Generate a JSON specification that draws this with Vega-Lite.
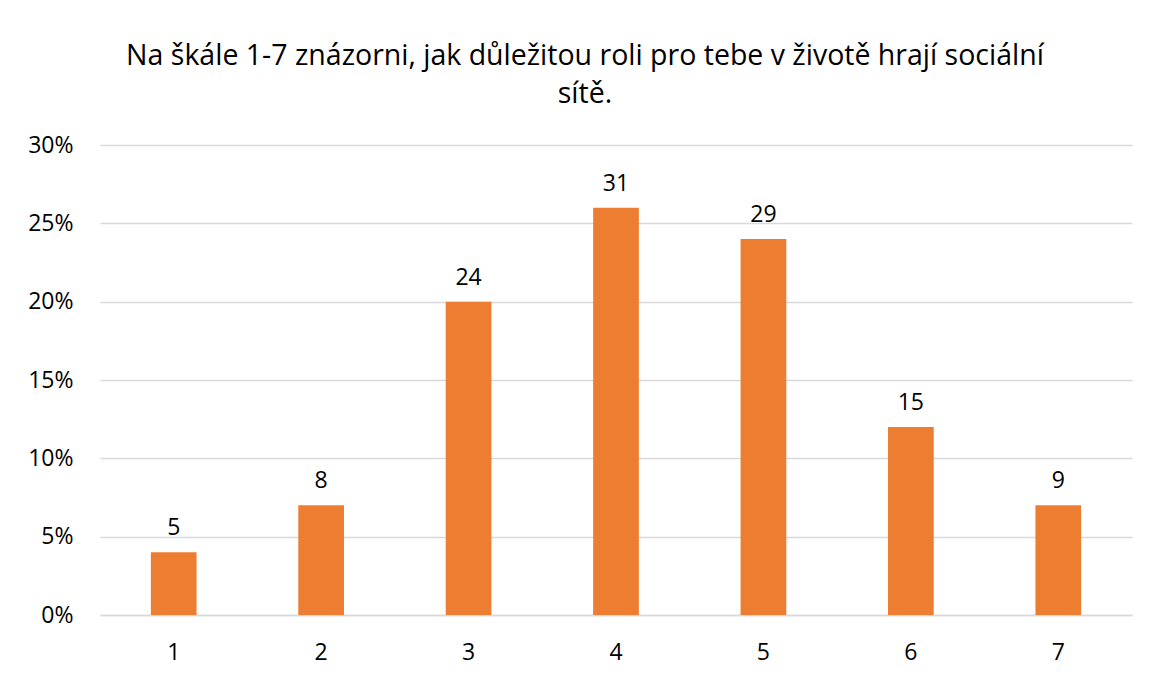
{
  "$schema": "https://vega.github.io/schema/vega-lite/v6.json",
  "width": 1032,
  "height": 470,
  "autosize": "none",
  "padding": {"left": 100, "top": 145, "right": 17, "bottom": 62},
  "background": "white",
  "title": {
    "text": ["Na škále 1-7 znázorni, jak důležitou roli pro tebe v životě hrají sociální", "sítě."],
    "font": "Open Sans",
    "fontSize": 28.5,
    "fontWeight": "normal",
    "color": "#000000",
    "anchor": "middle",
    "frame": "group",
    "offset": 26,
    "lineHeight": 38,
    "dx": -31
  },
  "data": {
    "values": [
      {"hodnota": "1", "podil": 0.04, "pocet": 5},
      {"hodnota": "2", "podil": 0.07, "pocet": 8},
      {"hodnota": "3", "podil": 0.20, "pocet": 24},
      {"hodnota": "4", "podil": 0.26, "pocet": 31},
      {"hodnota": "5", "podil": 0.24, "pocet": 29},
      {"hodnota": "6", "podil": 0.12, "pocet": 15},
      {"hodnota": "7", "podil": 0.07, "pocet": 9}
    ]
  },
  "encoding": {
    "x": {
      "field": "hodnota",
      "type": "nominal",
      "sort": null,
      "scale": {"paddingInner": 0.69, "paddingOuter": 0.345},
      "axis": {
        "title": null,
        "labelAngle": 0,
        "labelFont": "Open Sans",
        "labelFontSize": 23,
        "labelColor": "#000000",
        "labelPadding": 26,
        "ticks": false,
        "domainColor": "#d9d9d9",
        "domainWidth": 1.5,
        "grid": false
      }
    },
    "y": {
      "field": "podil",
      "type": "quantitative",
      "scale": {"domain": [0, 0.3], "nice": false},
      "axis": {
        "title": null,
        "format": ".0%",
        "values": [0, 0.05, 0.1, 0.15, 0.2, 0.25, 0.3],
        "labelFont": "Open Sans",
        "labelFontSize": 23,
        "labelColor": "#000000",
        "labelPadding": 27,
        "ticks": false,
        "domain": false,
        "grid": true,
        "gridColor": "#d9d9d9",
        "gridWidth": 1.5
      }
    }
  },
  "layer": [
    {"mark": {"type": "bar", "color": "#ED7D31"}},
    {
      "mark": {"type": "text", "baseline": "bottom", "dy": -12, "font": "Open Sans", "fontSize": 23, "color": "#000000"},
      "encoding": {"text": {"field": "pocet", "type": "quantitative"}}
    }
  ],
  "config": {"view": {"stroke": null}}
}
